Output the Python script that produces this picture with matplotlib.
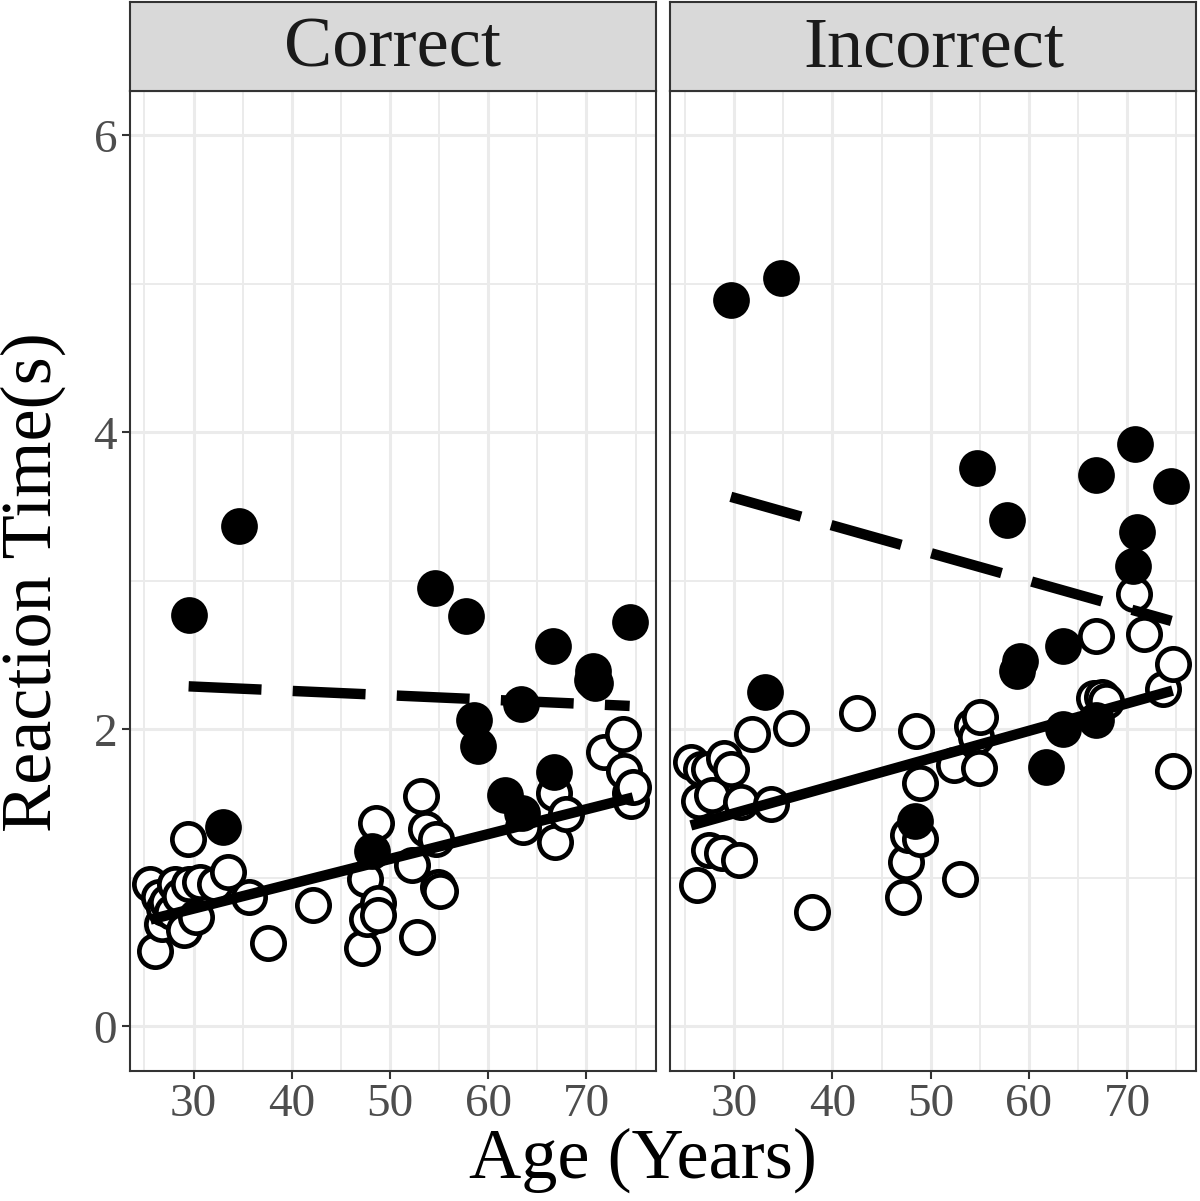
import matplotlib
matplotlib.use("Agg")
import matplotlib.pyplot as plt
import numpy as np

plt.rcParams["font.family"] = ["Liberation Serif", "DejaVu Serif"]

panels = ["Correct", "Incorrect"]

# filled symbols (group 1)
correct_filled_age = [29.5, 33.0, 34.6, 48.2, 54.6, 57.7, 58.6, 59.0, 61.7, 63.3, 63.4,
                      66.6, 66.7, 70.6, 70.7, 70.9, 74.4]
correct_filled_rt = [2.77, 1.34, 3.37, 1.18, 2.95, 2.76, 2.06, 1.89, 1.56, 2.17, 1.44,
                     2.56, 1.71, 2.33, 2.39, 2.31, 2.72]

incorrect_filled_age = [29.65, 33.13, 34.75, 48.36, 54.71, 57.8, 58.74, 59.09, 61.72, 63.42,
                        63.48, 66.8, 66.83, 70.6, 70.81, 70.98, 74.5]
incorrect_filled_rt = [4.89, 2.25, 5.04, 1.38, 3.76, 3.41, 2.39, 2.46, 1.75, 2.56,
                       2.0, 3.71, 2.06, 3.10, 3.92, 3.33, 3.64]

# open symbols (group 2)
correct_open_age = [25.6, 26.1, 26.45, 26.8, 27.0, 27.3, 27.8, 28.1, 28.6, 29.0, 29.4, 29.5,
                    30.3, 30.7, 32.2, 33.55, 35.6, 37.6, 42.2,
                    47.15, 47.5, 47.68, 48.56, 48.73, 48.73, 52.25, 52.78, 53.13, 53.66,
                    54.71, 54.89, 55.06,
                    63.5, 66.66, 66.84, 67.89, 71.76, 73.69, 73.87, 74.4, 74.57, 74.74]
correct_open_rt = [0.96, 0.51, 0.87, 0.69, 0.80, 0.84, 0.77, 0.96, 0.88, 0.65, 1.26, 0.96,
                   0.74, 0.97, 0.96, 1.04, 0.87, 0.56, 0.82,
                   0.53, 0.99, 0.72, 1.37, 0.83, 0.75, 1.09, 0.60, 1.55, 1.33,
                   1.26, 0.94, 0.91,
                   1.34, 1.57, 1.24, 1.43, 1.85, 1.97, 1.72, 1.57, 1.52, 1.61]

incorrect_open_age = [25.58, 26.25, 26.42, 26.59, 27.44, 27.44, 27.78, 28.8, 28.97, 29.64,
                      30.49, 30.66, 31.85, 33.71, 35.75, 37.95, 42.5,
                      47.13, 47.48, 47.66, 48.54, 48.89, 48.89, 52.41, 52.94, 54.17, 54.6,
                      54.87, 55.04,
                      66.63, 66.8, 67.48, 67.8, 70.71, 71.73, 73.61, 74.63, 74.63]
incorrect_open_rt = [1.78, 0.95, 1.52, 1.73, 1.73, 1.19, 1.56, 1.17, 1.81, 1.73,
                     1.12, 1.51, 1.97, 1.50, 2.01, 0.77, 2.11,
                     0.87, 1.11, 1.29, 1.99, 1.64, 1.26, 1.76, 0.99, 2.02, 1.95,
                     1.74, 2.08,
                     2.21, 2.63, 2.22, 2.19, 2.91, 2.64, 2.27, 2.44, 1.72]

x_ticks = [30, 40, 50, 60, 70]
y_ticks = [0, 2, 4, 6]

data = {
    "Correct": (correct_filled_age, correct_filled_rt, correct_open_age, correct_open_rt),
    "Incorrect": (incorrect_filled_age, incorrect_filled_rt, incorrect_open_age, incorrect_open_rt),
}

W, H = 1200, 1201
fig = plt.figure(figsize=(W / 100, H / 100), dpi=100)

grid_col = "#EBEBEB"
border_col = "#333333"

lefts = [129.7, 670.4]
panel_w = 526.0
bottom_px, top_px = 1071.0, 90.7
strip_top = 2.0

for i, name in enumerate(panels):
    fa, fr, oa, orr = data[name]
    ax = fig.add_axes([lefts[i] / W, 1 - bottom_px / H, panel_w / W, (bottom_px - top_px) / H])
    ax.set_xlim(23.5, 77.05)
    ax.set_ylim(-0.30, 6.30)
    ax.set_xticks(x_ticks)
    ax.set_yticks(y_ticks)
    ax.set_xticks([25, 35, 45, 55, 65, 75], minor=True)
    ax.set_yticks([1, 3, 5], minor=True)
    ax.grid(True, which="major", color=grid_col, lw=2.2, zorder=0)
    ax.grid(True, which="minor", color=grid_col, lw=1.4, zorder=0)
    ax.set_axisbelow(True)
    ax.tick_params(which="minor", length=0)
    ax.tick_params(which="major", length=6, width=1.5, color=border_col,
                   labelsize=34, labelcolor="#4D4D4D", pad=3)
    if i == 1:
        ax.tick_params(axis="y", labelleft=False, length=0)
    for sp in ax.spines.values():
        sp.set_color(border_col)
        sp.set_linewidth(1.5)

    ax.scatter(oa, orr, s=540, facecolors="white", edgecolors="black", linewidths=3.4, zorder=3)
    ax.scatter(fa, fr, s=700, color="black", linewidths=0, zorder=4)

    # linear fits per group
    oa_np, or_np = np.array(oa), np.array(orr)
    k, b = np.polyfit(oa_np, or_np, 1)
    xs = np.array([oa_np.min(), oa_np.max()])
    ax.plot(xs, k * xs + b, color="black", lw=7.5, solid_capstyle="butt", zorder=5)

    fa_np, fr_np = np.array(fa), np.array(fr)
    k, b = np.polyfit(fa_np, fr_np, 1)
    xs = np.array([fa_np.min(), fa_np.max()])
    ax.plot(xs, k * xs + b, color="black", lw=7.5, dashes=(7.0, 3.0),
            dash_capstyle="butt", zorder=5)

    # strip
    sax = fig.add_axes([lefts[i] / W, 1 - top_px / H, panel_w / W, (top_px - strip_top) / H])
    sax.set_facecolor("#D9D9D9")
    sax.set_xticks([])
    sax.set_yticks([])
    for sp in sax.spines.values():
        sp.set_color(border_col)
        sp.set_linewidth(1.5)
    sax.text(0.5, 0.47, name, ha="center", va="center", fontsize=52, color="#1A1A1A",
             transform=sax.transAxes)

fig.text(33 / W, 1 - 582 / H, "Reaction Time(s)", rotation=90, ha="center", va="center",
         fontsize=52)
fig.text(643 / W, 1 - 1160 / H, "Age (Years)", ha="center", va="center", fontsize=52)

fig.savefig("out.png", dpi=100)
